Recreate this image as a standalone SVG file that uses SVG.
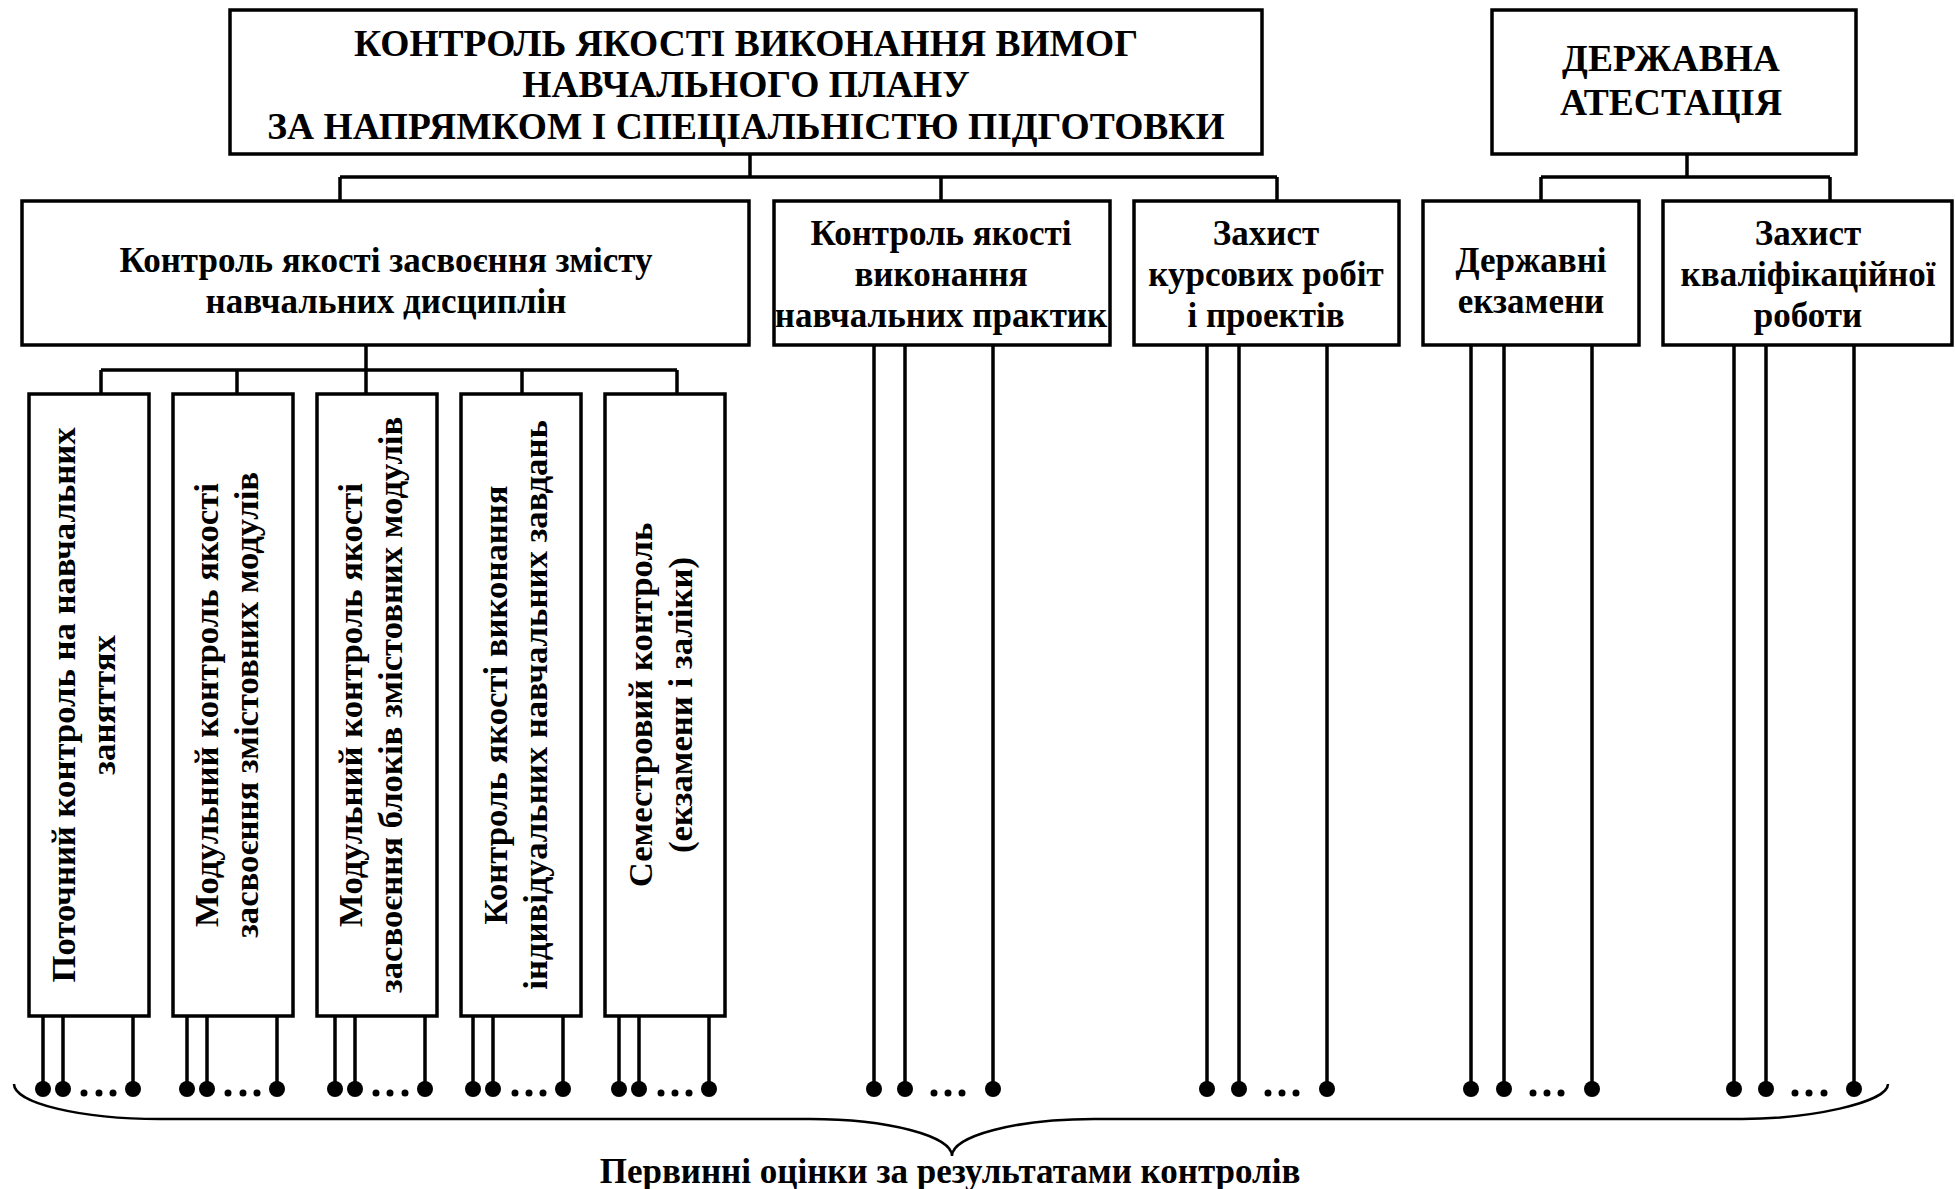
<svg xmlns="http://www.w3.org/2000/svg" width="1955" height="1189" viewBox="0 0 1955 1189">
<style>
.box{fill:#fff;stroke:#000;stroke-width:3.5}
.t{font-family:"Liberation Serif","Times New Roman",serif;font-weight:bold;font-size:35px;fill:#000;text-anchor:middle}
.c{font-size:37.5px}
.v{font-size:34.7px}
.b{font-size:35px}
.ln{stroke:#000;stroke-width:3.5;fill:none}
.br{stroke:#000;stroke-width:2.5;fill:none}
.dot{fill:#000}
</style>
<rect width="1955" height="1189" fill="#fff"/>
<g id="connectors">
  <path class="ln" d="M750,154V177M340,177H1277M340,177V201M941,177V201M1277,177V201"/>
  <path class="ln" d="M1687,154V177M1541,177H1830M1541,177V201M1830,177V201"/>
  <path class="ln" d="M366,345V394M101,370H677M101,370V394M237,370V394M522,370V394M677,370V394"/>
  <path class="ln" d="M43,1016V1089M63,1016V1089M133,1016V1089M187,1016V1089M207,1016V1089M277,1016V1089M335,1016V1089M355,1016V1089M425,1016V1089M473,1016V1089M493,1016V1089M563,1016V1089M619,1016V1089M639,1016V1089M709,1016V1089"/>
  <path class="ln" d="M874,345V1089M905,345V1089M993,345V1089M1207,345V1089M1239,345V1089M1327,345V1089M1471,345V1089M1504,345V1089M1592,345V1089M1734,345V1089M1766,345V1089M1854,345V1089"/>
  <g class="dot">
    <circle cx="43" cy="1089" r="8"/><circle cx="63" cy="1089" r="8"/><circle cx="133" cy="1089" r="8"/>
    <circle cx="84" cy="1093" r="3.5"/><circle cx="99" cy="1093" r="3.5"/><circle cx="113" cy="1093" r="3.5"/>
    <circle cx="187" cy="1089" r="8"/><circle cx="207" cy="1089" r="8"/><circle cx="277" cy="1089" r="8"/>
    <circle cx="228" cy="1093" r="3.5"/><circle cx="243" cy="1093" r="3.5"/><circle cx="257" cy="1093" r="3.5"/>
    <circle cx="335" cy="1089" r="8"/><circle cx="355" cy="1089" r="8"/><circle cx="425" cy="1089" r="8"/>
    <circle cx="376" cy="1093" r="3.5"/><circle cx="390" cy="1093" r="3.5"/><circle cx="405" cy="1093" r="3.5"/>
    <circle cx="473" cy="1089" r="8"/><circle cx="493" cy="1089" r="8"/><circle cx="563" cy="1089" r="8"/>
    <circle cx="515" cy="1093" r="3.5"/><circle cx="529" cy="1093" r="3.5"/><circle cx="543" cy="1093" r="3.5"/>
    <circle cx="619" cy="1089" r="8"/><circle cx="639" cy="1089" r="8"/><circle cx="709" cy="1089" r="8"/>
    <circle cx="661" cy="1093" r="3.5"/><circle cx="675" cy="1093" r="3.5"/><circle cx="689" cy="1093" r="3.5"/>
    <circle cx="874" cy="1089" r="8"/><circle cx="905" cy="1089" r="8"/><circle cx="993" cy="1089" r="8"/>
    <circle cx="934" cy="1093" r="3.5"/><circle cx="948" cy="1093" r="3.5"/><circle cx="962" cy="1093" r="3.5"/>
    <circle cx="1207" cy="1089" r="8"/><circle cx="1239" cy="1089" r="8"/><circle cx="1327" cy="1089" r="8"/>
    <circle cx="1268" cy="1093" r="3.5"/><circle cx="1282" cy="1093" r="3.5"/><circle cx="1296" cy="1093" r="3.5"/>
    <circle cx="1471" cy="1089" r="8"/><circle cx="1504" cy="1089" r="8"/><circle cx="1592" cy="1089" r="8"/>
    <circle cx="1533" cy="1093" r="3.5"/><circle cx="1547" cy="1093" r="3.5"/><circle cx="1561" cy="1093" r="3.5"/>
    <circle cx="1734" cy="1089" r="8"/><circle cx="1766" cy="1089" r="8"/><circle cx="1854" cy="1089" r="8"/>
    <circle cx="1795" cy="1093" r="3.5"/><circle cx="1809" cy="1093" r="3.5"/><circle cx="1824" cy="1093" r="3.5"/>
  </g>
  <path class="br" d="M14,1084C14,1103 80,1119 160,1119L810,1119C888,1119 952,1136 952,1156C952,1136 1016,1119 1094,1119L1742,1119C1808,1119 1888,1103 1888,1084"/>
</g>
<g id="top">
  <rect class="box" x="230" y="10" width="1032" height="144"/>
  <text class="t c" x="746" y="56">КОНТРОЛЬ ЯКОСТІ ВИКОНАННЯ ВИМОГ</text>
  <text class="t c" x="746" y="97">НАВЧАЛЬНОГО ПЛАНУ</text>
  <text class="t c" x="746" y="139">ЗА НАПРЯМКОМ І СПЕЦІАЛЬНІСТЮ ПІДГОТОВКИ</text>
</g>
<g id="attestation">
  <rect class="box" x="1492" y="10" width="364" height="144"/>
  <text class="t c" x="1671" y="71">ДЕРЖАВНА</text>
  <text class="t c" x="1671" y="115">АТЕСТАЦІЯ</text>
</g>
<g id="boxA">
  <rect class="box" x="22" y="201" width="727" height="144"/>
  <text class="t" x="386" y="272">Контроль якості засвоєння змісту</text>
  <text class="t" x="386" y="313">навчальних дисциплін</text>
</g>
<g id="boxB">
  <rect class="box" x="774" y="201" width="336" height="144"/>
  <text class="t" x="941" y="245">Контроль якості</text>
  <text class="t" x="941" y="286">виконання</text>
  <text class="t" x="941" y="327">навчальних практик</text>
</g>
<g id="boxC">
  <rect class="box" x="1134" y="201" width="265" height="144"/>
  <text class="t" x="1266" y="245">Захист</text>
  <text class="t" x="1266" y="286">курсових робіт</text>
  <text class="t" x="1266" y="327">і проектів</text>
</g>
<g id="boxD">
  <rect class="box" x="1423" y="201" width="216" height="144"/>
  <text class="t" x="1531" y="272">Державні</text>
  <text class="t" x="1531" y="313">екзамени</text>
</g>
<g id="boxE">
  <rect class="box" x="1663" y="201" width="289" height="144"/>
  <text class="t" x="1808" y="245">Захист</text>
  <text class="t" x="1808" y="286">кваліфікаційної</text>
  <text class="t" x="1808" y="327">роботи</text>
</g>
<g id="v1">
  <rect class="box" x="29" y="394" width="120" height="622"/>
  <text class="t v" transform="translate(75,705) rotate(-90)">Поточний контроль на навчальних</text>
  <text class="t v" transform="translate(115,705) rotate(-90)">заняттях</text>
</g>
<g id="v2">
  <rect class="box" x="173" y="394" width="120" height="622"/>
  <text class="t v" transform="translate(218,705) rotate(-90)">Модульний контроль якості</text>
  <text class="t v" transform="translate(258,705) rotate(-90)">засвоєння змістовних модулів</text>
</g>
<g id="v3">
  <rect class="box" x="317" y="394" width="120" height="622"/>
  <text class="t v" transform="translate(362,705) rotate(-90)">Модульний контроль якості</text>
  <text class="t v" transform="translate(402,705) rotate(-90)">засвоєння блоків змістовних модулів</text>
</g>
<g id="v4">
  <rect class="box" x="461" y="394" width="120" height="622"/>
  <text class="t v" transform="translate(507,705) rotate(-90)">Контроль якості виконання</text>
  <text class="t v" transform="translate(547,705) rotate(-90)">індивідуальних навчальних завдань</text>
</g>
<g id="v5">
  <rect class="box" x="605" y="394" width="120" height="622"/>
  <text class="t v" transform="translate(652,705) rotate(-90)">Семестровий контроль</text>
  <text class="t v" transform="translate(692,705) rotate(-90)">(екзамени і заліки)</text>
</g>
<g id="caption">
  <text class="t b" x="950" y="1183">Первинні оцінки за результатами контролів</text>
</g>
</svg>
